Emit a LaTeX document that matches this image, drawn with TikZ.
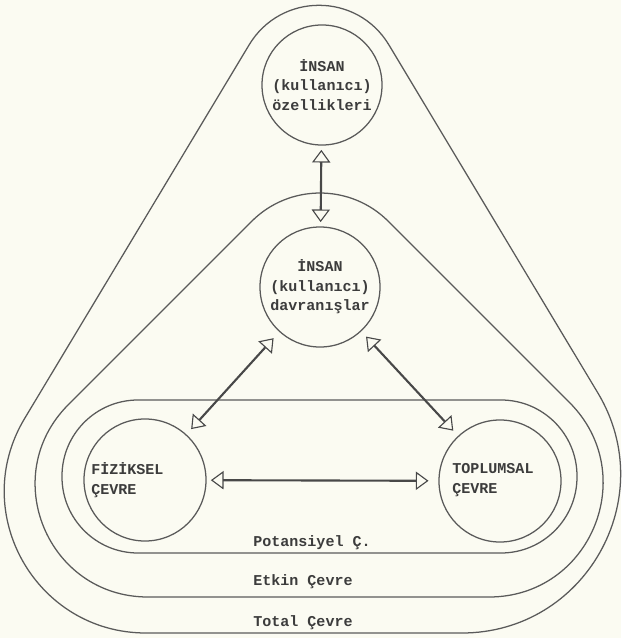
\documentclass[tikz,border=0pt]{standalone}
\usepackage{fontspec}
\setmonofont{Liberation Mono}
\usetikzlibrary{arrows.meta}
\definecolor{paper}{RGB}{251,251,242}
\definecolor{ink}{RGB}{90,90,90}
\definecolor{txt}{RGB}{60,60,60}
\begin{document}
\begin{tikzpicture}[x=0.025cm,y=-0.025cm,
  env/.style={draw=ink,line width=0.9pt},
  circ/.style={circle,draw=ink,line width=0.9pt,minimum size=3cm,inner sep=0pt,align=center,text=txt,font=\ttfamily\bfseries\fontsize{10.7}{13.8}\selectfont},
  lbl/.style={inner sep=0pt,align=left,text=txt,font=\ttfamily\bfseries\fontsize{10.7}{13.8}\selectfont},
  dbl/.style={{Triangle[open,length=9pt,width=13pt,line width=0.8pt]}-{Triangle[open,length=9pt,width=13pt,line width=0.8pt]},draw=ink!80!black,line width=1.5pt}]
\fill[paper] (0,0) rectangle (621,638);
\useasboundingbox (0,0) rectangle (621,638);
\draw[env] (146,633) -- (461.8,633) .. controls (585,633) and (661.2,498.6) .. (597.9,393) -- (388.9,44.9) .. controls (357.2,-7.9) and (280.8,-7.9) .. (249.1,44.9) -- (24.5,418.7) .. controls (-32,513) and (36,633) .. (146,633) -- cycle;
\draw[env] (148,597) -- (489,597) .. controls (590.5,597) and (641.3,474.3) .. (569.5,402.5) -- (388.3,221.3) .. controls (350.6,183.6) and (289.4,183.6) .. (251.7,221.3) -- (68.3,404.7) .. controls (-2.7,475.7) and (47.6,597) .. (148,597) -- cycle;
\draw[env,rounded corners=1.9cm] (62,400) rectangle (577,553);
\node[circ] (oz) at (322,85) {İNSAN\\(kullanıcı)\\özellikleri};
\node[circ] (dv) at (320,287) {İNSAN\\(kullanıcı)\\davranışlar};
\node[circ,minimum size=3.05cm] (fz) at (145,480) {};
\node[lbl,anchor=west] (fzt) at (91,480) {FİZİKSEL\\ÇEVRE};
\node[circ,minimum size=3.05cm] (tp) at (500,481) {};
\node[lbl,anchor=west] (tpt) at (452,480) {TOPLUMSAL\\ÇEVRE};
\draw[dbl,shorten <=3pt,shorten >=3pt] (oz) -- (dv);
\draw[dbl,shorten <=6pt,shorten >=5pt] (dv) -- (fz);
\draw[dbl,shorten <=5pt,shorten >=5pt] (dv) -- (tp);
\draw[dbl,shorten <=3pt,shorten >=7pt] (fz) -- (tp);
\node[lbl,anchor=west] (pc) at (253,543) {Potansiyel Ç.};
\node[lbl,anchor=west] (ec) at (253,582) {Etkin Çevre};
\node[lbl,anchor=west] (tc) at (253,623) {Total Çevre};
\end{tikzpicture}
\end{document}
